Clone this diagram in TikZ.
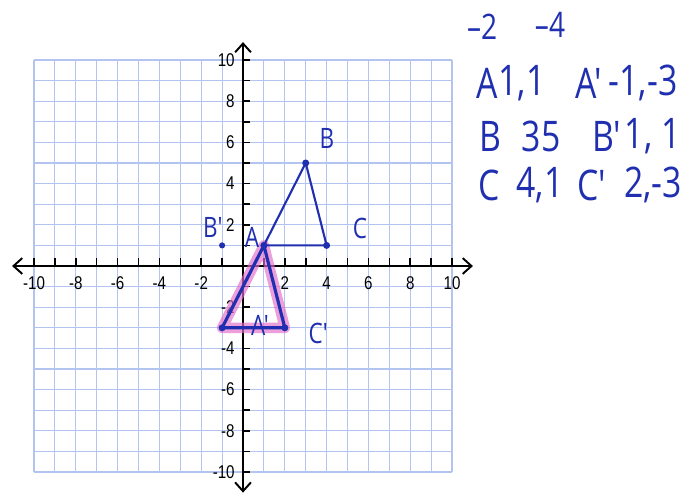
\documentclass[tikz,border=0pt]{standalone}
\usepackage{fontspec}
\setmainfont{Liberation Sans}
\newfontfamily\tickfont[FakeStretch=0.82]{Liberation Sans}
\newfontfamily\handfont[FakeStretch=0.8]{Open Sans}
\usepackage{xcolor}
\usepackage{tikz}
\usetikzlibrary{arrows.meta}
\definecolor{gridblue}{HTML}{B4C4F0}
\definecolor{penblue}{HTML}{1F2FB0}
\definecolor{marker}{HTML}{E46CC8}
\tikzstyle{gridline} = [gridblue, line width=0.6pt]
\tikzstyle{axis} = [black, line width=1.1pt, {Straight Barb[length=5pt,width=9pt]}-{Straight Barb[length=5pt,width=9pt]}]
\tikzstyle{tick} = [black, line width=0.9pt]
\tikzstyle{ticklabel} = [font=\tickfont\fontsize{10.5}{10.5}\selectfont, inner sep=1pt]
\tikzstyle{pen} = [penblue, line width=1.2pt, line cap=round, line join=round]
\tikzstyle{penthick} = [penblue, line width=1.8pt, line cap=round, line join=round]
\tikzstyle{highlight} = [marker, opacity=0.65, line width=6pt, line cap=round, line join=round]
\tikzstyle{dot} = [circle, fill=penblue, inner sep=0pt, minimum size=4pt]
\tikzstyle{hand} = [penblue, font=\handfont\fontsize{16}{16}\selectfont, inner sep=0pt]
\tikzstyle{note} = [penblue, font=\handfont\fontsize{24}{24}\selectfont, inner sep=0pt]
\tikzstyle{small note} = [penblue, font=\handfont\fontsize{20}{20}\selectfont, inner sep=0pt]

\begin{document}
\begin{tikzpicture}[x=0.418cm, y=0.412cm]
\useasboundingbox[fill=white] (-11.627,-11.214) rectangle (21.77,12.913);

% Grid
\foreach \k in {-10,...,10} {
  \draw[gridline] (\k,-10) -- (\k,10);
  \draw[gridline] (-10,\k) -- (10,\k);
}

% Axes
\coordinate (xmin) at (-11.05,0);
\coordinate (xmax) at (11.0,0);
\coordinate (ymin) at (0,-11.0);
\coordinate (ymax) at (0,10.87);
\draw[axis] (xmin) -- (xmax);
\draw[axis] (ymin) -- (ymax);
\foreach \k in {-10,...,-1,1,2,...,10} {
  \draw[tick] (\k,0) -- (\k,0.4);
  \draw[tick] (0,\k) -- (0.35,\k);
}
\foreach \k in {-10,-8,-6,-4,-2,2,4,6,8,10} {
  \node[ticklabel] (xl\k) at (\k,-0.83) {\k};
  \node[ticklabel, anchor=east] (yl\k) at (-0.3,\k) {\k};
}

% Points
\coordinate (A) at (1,1);
\coordinate (B) at (3,5);
\coordinate (C) at (4,1);
\coordinate (Ap) at (-1,-3);
\coordinate (Cp) at (2,-3);
\coordinate (Bp) at (-1,1);

% Image triangle
\draw[highlight] (Ap) -- (A) -- (Cp) -- cycle;
\draw[penthick] (Ap) -- (A) -- (Cp) -- cycle;

% Original triangle
\draw[pen] (A) -- (B) -- (C) -- cycle;

% Dots
\node[dot] (dA) at (A) {};
\node[dot] (dB) at (B) {};
\node[dot] (dC) at (C) {};
\node[dot] (dAp) at (Ap) {};
\node[dot] (dCp) at (Cp) {};
\node[dot, minimum size=3.5pt] (dBp) at (Bp) {};

% Point labels
\node[hand] (lA) at (0.43,1.41) {A};
\node[hand] (lB) at (4.02,6.21) {B};
\node[hand] (lC) at (5.6,1.84) {C};
\node[hand] (lBp) at (-1.44,1.89) {B'};
\node[hand] (lAp) at (0.81,-2.86) {A'};
\node[hand] (lCp) at (3.6,-3.25) {C' };

% Notes
\node[small note] (n1) at (11.44,11.60) {\textendash2};
\node[small note] (n2) at (14.69,11.70) {\textendash4};

\node[note] (rA) at (11.67,8.88) {A};
\node[note] (rA1) at (13.35,8.88) {1,1};
\node[note] (rAp) at (16.56,8.88) {A'};
\node[note] (rAp1) at (19.14,8.88) {-1,-3};

\node[note] (rB) at (11.82,6.31) {B};
\node[note] (rB1) at (14.26,6.31) {35};
\node[note] (rBp) at (17.4,6.31) {B'};
\node[note] (rBp1) at (19.6,6.31) {1, 1};

\node[note] (rC) at (11.77,3.93) {C};
\node[note] (rC1) at (14.21,3.93) {4,1};
\node[note] (rCp) at (16.70,3.93) {C'};
\node[note] (rCp1) at (19.62,3.93) {2,-3};
\end{tikzpicture}
\end{document}
